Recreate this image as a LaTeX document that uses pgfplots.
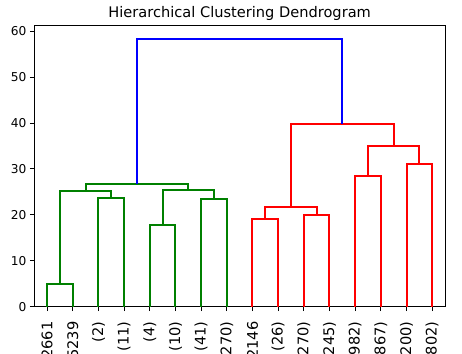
\documentclass[border=0pt]{standalone}
\usepackage{fontspec}
\setmainfont{DejaVu Sans}
\usepackage{pgfplots}
\pgfplotsset{compat=1.18}
\definecolor{mplgreen}{rgb}{0,0.5,0}
\definecolor{mplred}{rgb}{1,0,0}
\definecolor{mplblue}{rgb}{0,0,1}
\begin{document}
\begin{tikzpicture}
\begin{scope}
\clip (-34.3pt,-46.3pt) rectangle (427.7pt,306.7pt);
\begin{axis}[
  at={(0,0)}, anchor=south west,
  scale only axis,
  width=410.7pt, height=281pt,
  xmin=0, xmax=160, ymin=0, ymax=61.2,
  axis line style={black, line width=1pt},
  tick pos=left,
  tick align=outside,
  major tick length=4.3pt,
  every tick/.style={black, line width=1pt},
  ytick={0,10,20,30,40,50,60},
  xtick={5,15,25,35,45,55,65,75,85,95,105,115,125,135,145,155},
  xticklabels={2661,5239,(2),(11),(4),(10),(41),(270),2146,(26),(270),(245),(982),(867),(200),(802)},
  /pgf/number format/assume math mode=true,
  yticklabel style={font=\fontsize{12.2}{14}\selectfont},
  xticklabel style={font=\fontsize{14.6}{17}\selectfont, yshift=-7pt, rotate=90, anchor=east},
  title={Hierarchical Clustering Dendrogram},
  title style={font=\fontsize{14.6}{17}\selectfont, at={(0.5,1)}, anchor=base, yshift=1.9pt},
  every axis plot/.append style={line width=2pt, line join=miter},
]
% green cluster
\addplot[mplgreen] coordinates {(5,0)(5,4.9)(15,4.9)(15,0)};
\addplot[mplgreen] coordinates {(25,0)(25,23.7)(35,23.7)(35,0)};
\addplot[mplgreen] coordinates {(10,4.9)(10,25.1)(30,25.1)(30,23.7)};
\addplot[mplgreen] coordinates {(45,0)(45,17.9)(55,17.9)(55,0)};
\addplot[mplgreen] coordinates {(65,0)(65,23.4)(75,23.4)(75,0)};
\addplot[mplgreen] coordinates {(50,17.9)(50,25.4)(70,25.4)(70,23.4)};
\addplot[mplgreen] coordinates {(20,25.1)(20,26.8)(60,26.8)(60,25.4)};
% red cluster
\addplot[mplred] coordinates {(85,0)(85,19.0)(95,19.0)(95,0)};
\addplot[mplred] coordinates {(105,0)(105,20.0)(115,20.0)(115,0)};
\addplot[mplred] coordinates {(90,19.0)(90,21.7)(110,21.7)(110,20.0)};
\addplot[mplred] coordinates {(125,0)(125,28.5)(135,28.5)(135,0)};
\addplot[mplred] coordinates {(145,0)(145,31.0)(155,31.0)(155,0)};
\addplot[mplred] coordinates {(130,28.5)(130,35.1)(150,35.1)(150,31.0)};
\addplot[mplred] coordinates {(100,21.7)(100,39.7)(140,39.7)(140,35.1)};
% top link
\addplot[mplblue] coordinates {(40,26.8)(40,58.3)(120,58.3)(120,39.7)};
\end{axis}
\end{scope}
\pgfresetboundingbox
\useasboundingbox (-34.3pt,-46.3pt) rectangle (427.7pt,306.7pt);
\end{tikzpicture}
\end{document}
